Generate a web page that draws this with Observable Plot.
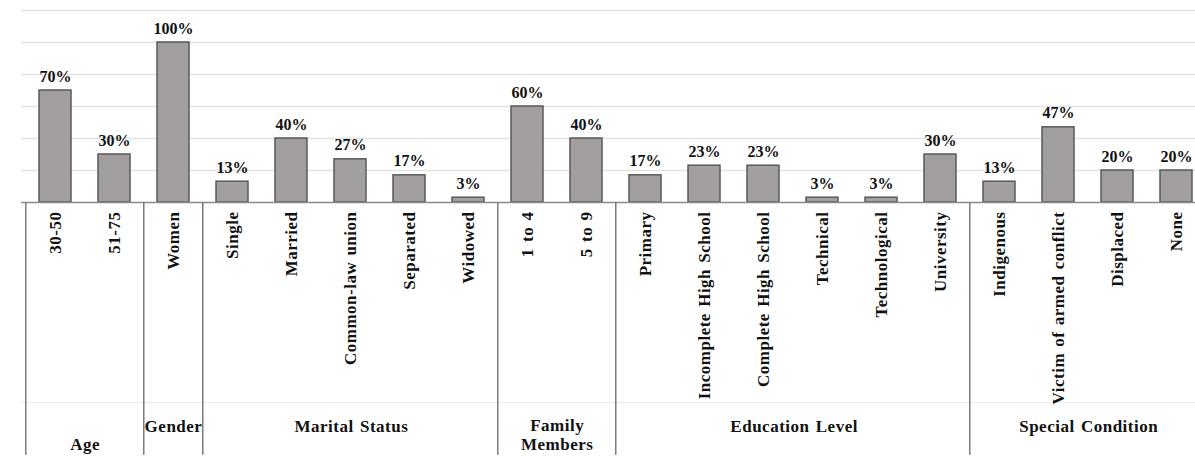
<!DOCTYPE html>
<html><head><meta charset="utf-8">
<script src="https://cdn.jsdelivr.net/npm/d3@7"></script>
<script src="https://cdn.jsdelivr.net/npm/@observablehq/plot@0.6"></script>
<style>
html,body{margin:0;padding:0;background:#fff;overflow:hidden}
g[font-size="17"] text{letter-spacing:0.5px;word-spacing:1.5px}
</style></head><body><div id="chart"></div>
<script>
// ---- data ----
const groupNames = ["Age", "Gender", "Marital Status", "Family\nMembers", "Education Level", "Special Condition"];
const groupCategories = [
  ["30-50", "51-75"],
  ["Women"],
  ["Single", "Married", "Common-law union", "Separated", "Widowed"],
  ["1 to 4", "5 to 9"],
  ["Primary", "Incomplete High School", "Complete High School", "Technical", "Technological", "University"],
  ["Indigenous", "Victim of armed conflict", "Displaced", "None"]
];
const groupValues = [
  [70, 30],
  [100],
  [13, 40, 27, 17, 3],
  [60, 40],
  [17, 23, 23, 3, 3, 30],
  [13, 47, 20, 20]
];
const yTicks = [20, 40, 60, 80, 100, 120];

// ---- build table ----
const rows = [];
groupCategories.forEach((cats, gi) => cats.forEach((c, ci) => rows.push({group: groupNames[gi], category: c, value: groupValues[gi][ci]})));
const categories = rows.map(d => d.category);
const groups = groupNames.map((name, gi) => ({name, first: groupCategories[gi][0], count: groupCategories[gi].length}));

// ---- layout ----
const W = 1195, H = 456;
const xRange = [21, 1210];
const step = (xRange[1] - xRange[0]) / categories.length;
const font = "'Liberation Serif','Times New Roman',serif";
const bottomY = -158;     // bottom of separator lines (in y units below baseline)
const levelLineY = -125;  // faint line between category and group levels
const groupLabelY = {"Age": -151, "Family\nMembers": -145};
const groupLabelDefaultY = -139.5;

const groupLabelMarks = groups.map(g => Plot.text([g], {
  x: () => g.first,
  y: () => groupLabelY[g.name] ?? groupLabelDefaultY,
  text: "name",
  dx: (g.count - 1) * step / 2,
  fontSize: 17, fontWeight: "bold", fill: "#111",
  lineAnchor: "middle", lineHeight: 1.1
}));

const chart = Plot.plot({
  width: W, height: H,
  marginTop: 10, marginBottom: 254, marginLeft: 21, marginRight: 0,
  x: {type: "band", domain: categories, range: xRange, paddingInner: 0.45, paddingOuter: 0.225, axis: null},
  y: {domain: [0, 120], axis: null},
  style: {fontFamily: font, background: "#fff", overflow: "hidden"},
  marks: [
    Plot.ruleY(yTicks, {stroke: "#e2e2e2", strokeWidth: 1.5}),
    Plot.ruleY([levelLineY], {stroke: "#ededed", strokeWidth: 1}),
    Plot.barY(rows, {x: "category", y: "value", fill: "#a39f9f", stroke: "#5a5a5a", strokeWidth: 1.5}),
    Plot.ruleY([0], {stroke: "#8a8a8a", strokeWidth: 1.5}),
    Plot.ruleX(groups, {x: "first", dx: -step / 2, y1: 0, y2: bottomY, stroke: "#7a7a7a", strokeWidth: 1.5}),
    Plot.text(rows, {x: "category", y: "value", text: d => d.value + "%", dy: -9, lineAnchor: "bottom",
      fontSize: 16, fontWeight: "bold", fill: "#111"}),
    Plot.text(rows, {x: "category", y: 0, text: "category", rotate: -90, textAnchor: "end", lineAnchor: "middle",
      dy: 9, fontSize: 17, fontWeight: "bold", fill: "#111"}),
    ...groupLabelMarks
  ]
});
document.getElementById("chart").appendChild(chart);
</script></body></html>
